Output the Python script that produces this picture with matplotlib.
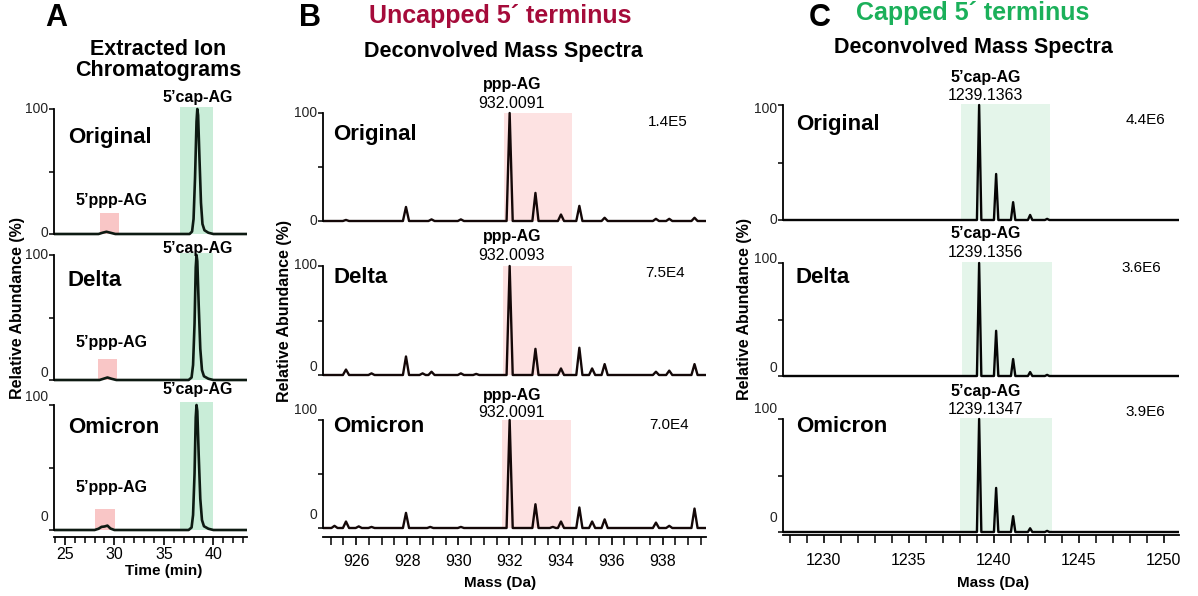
import matplotlib
matplotlib.use("Agg")
import matplotlib.pyplot as plt
from matplotlib.ticker import MultipleLocator

plt.rcParams["font.family"] = ["Liberation Sans", "DejaVu Sans"]

W, H = 1198, 596

variants = ["Original", "Delta", "Omicron"]

# --- panel A: extracted ion chromatograms (min, % abundance)
eic_original_t = [23.9, 28.4, 28.8, 29.2, 29.6, 30.1, 37.6, 37.85, 38.0, 38.15,
                  38.3, 38.38, 38.46, 38.6, 38.75, 38.9, 39.1, 39.5, 40.0, 43.4]
eic_original_y = [0, 0, 1, 1.8, 1, 0, 0, 2, 12, 45, 90, 100, 95, 60, 25, 8, 3, 1, 0, 0]
eic_delta_t = [23.9, 28.5, 28.9, 29.3, 29.7, 30.2, 37.5, 37.8, 37.95, 38.1,
               38.22, 38.3, 38.38, 38.52, 38.68, 38.85, 39.05, 39.5, 40.0, 43.4]
eic_delta_y = [0, 0, 1, 2, 1, 0, 0, 2, 12, 45, 90, 100, 95, 60, 25, 8, 3, 1, 0, 0]
eic_omicron_t = [23.9, 28.0, 28.4, 28.7, 29.0, 29.3, 29.6, 30.0, 37.5, 37.8, 37.95, 38.1,
                 38.22, 38.3, 38.38, 38.52, 38.68, 38.85, 39.05, 39.5, 40.0, 43.4]
eic_omicron_y = [0, 0, 1, 2.5, 2.8, 3.5, 1.2, 0, 0, 2, 12, 45, 90, 100, 95, 60, 25, 8, 3, 1, 0, 0]

# --- panel B: uncapped ppp-AG deconvolved spectra (Da, % abundance)
b_original_mass = [925.6, 927.95, 928.95, 930.1, 932.01, 933.02, 934.02, 934.74,
                   935.73, 937.74, 938.26, 939.25]
b_original_int = [1, 13, 1.5, 1.5, 100, 26, 6, 14, 3, 2, 2, 3]
b_delta_mass = [925.6, 926.6, 927.95, 928.6, 928.95, 930.1, 930.7, 932.01, 933.02,
                934.02, 934.74, 935.24, 935.73, 937.74, 938.26, 939.25]
b_delta_int = [5, 1.5, 17, 1.5, 3, 1.5, 1, 100, 24, 6, 25, 6, 10, 3, 4, 10]
b_omicron_mass = [925.15, 925.6, 926.1, 926.6, 927.95, 928.9, 930.1, 932.01, 933.02,
                  933.7, 934.02, 934.74, 935.24, 935.73, 937.74, 938.26, 939.25]
b_omicron_int = [2, 6, 1.5, 1, 14, 1, 1, 100, 22, 1, 6, 19, 6, 8, 5, 2, 18]
b_mono = ["932.0091", "932.0093", "932.0091"]
b_total = ["1.4E5", "7.5E4", "7.0E4"]

# --- panel C: capped 5'cap-AG deconvolved spectra
c_mass = [1239.14, 1240.14, 1241.14, 1242.14, 1243.14]
c_original_int = [100, 40, 15.5, 4.4, 1]
c_delta_int = [100, 40, 15, 3.5, 1]
c_omicron_int = [100, 39, 14, 3.3, 1]
c_mono = ["1239.1363", "1239.1356", "1239.1347"]
c_total = ["4.4E6", "3.6E6", "3.9E6"]

fig = plt.figure(figsize=(W / 100, H / 100), dpi=100)


def px_axes(x0, x1, y100, y0, ylo, yhi):
    s = (y0 - y100) / 100.0
    top = y100 - (yhi - 100) * s
    bot = y0 - ylo * s
    ax = fig.add_axes([x0 / W, 1 - bot / H, (x1 - x0) / W, (bot - top) / H])
    ax.set_ylim(ylo, yhi)
    ax.patch.set_alpha(0)
    return ax


def style(ax, bottom, offsets, pad=3):
    for s in ("top", "right"):
        ax.spines[s].set_visible(False)
    ax.spines["left"].set_bounds(0, 100)
    ax.spines["left"].set_linewidth(1.3)
    ax.spines["bottom"].set_linewidth(1.3)
    ax.set_yticks([0, 50, 100])
    ax.set_yticklabels([])
    ax.tick_params(axis="y", length=3.5, width=1.1)
    for val, dy in zip((100, 0), offsets):
        ax.annotate(str(val), xy=(0, val), xycoords=("axes fraction", "data"),
                    xytext=(-4, dy * 0.72), textcoords="offset points",
                    ha="right", va="center", fontsize=10, color="#222222")
    if bottom:
        ax.tick_params(axis="x", which="major", length=6, width=1.2,
                       labelsize=11.5, pad=pad)
        ax.tick_params(axis="x", which="minor", length=4.5, width=1.1)
    else:
        ax.spines["bottom"].set_visible(False)
        ax.tick_params(axis="x", which="both", bottom=False, labelbottom=False)


def stick_trace(masses, heights, lo, hi, hw):
    xs, ys = [lo], [0]
    for m, h in zip(masses, heights):
        xs += [m - hw, m, m + hw]
        ys += [0, h, 0]
    xs.append(hi)
    ys.append(0)
    return xs, ys


def ftext(x, y, s, **kw):
    fig.text(x / W, 1 - y / H, s, ha="center", va="center", **kw)


# ---------------- Panel A
a_rows = [(109, 234), (255, 380), (405, 530)]
a_off = [(0, 1), (0, 7), (8, 13)]
a_t = [eic_original_t, eic_delta_t, eic_omicron_t]
a_y = [eic_original_y, eic_delta_y, eic_omicron_y]
a_pink = [(28.5, 30.5), (28.3, 30.3), (28.0, 30.1)]
a_cap_y = [109, 105.6, 112]
a_ppp_y = [27, 30, 34]
a_name_y = [77.6, 80, 82]
for i, (y100, y0) in enumerate(a_rows):
    last = i == 2
    ax = px_axes(54, 247, y100, y0, -5.6 if last else -4, 104)
    ax.set_xlim(23.9, 43.4)
    ax.fill_between([36.6, 39.95], 0, 102, color="#c9edd8", lw=0)
    ax.fill_between(a_pink[i], 0, 17, color="#f9c6c6", lw=0)
    ax.plot(a_t[i], a_y[i], color="#0d1a12", lw=1.9)
    style(ax, last, a_off[i], pad=1)
    if last:
        ax.xaxis.set_major_locator(MultipleLocator(5))
        ax.xaxis.set_minor_locator(MultipleLocator(1))
    ax.text(38.4, a_cap_y[i], "5’cap-AG", ha="center", va="center",
            fontsize=11.5, fontweight="bold")
    ax.text(29.7, a_ppp_y[i], "5’ppp-AG", ha="center", va="center",
            fontsize=11.5, fontweight="bold")
    ax.text(25.3, a_name_y[i], variants[i], ha="left", va="center",
            fontsize=16, fontweight="bold")

ftext(56, 18, "A", fontsize=22, fontweight="bold")
ftext(158, 60, "Extracted Ion\nChromatograms", fontsize=15.5,
      fontweight="bold", linespacing=1.05)
ftext(18, 308, "Relative Abundance (%)", rotation=90, fontsize=11.5,
      fontweight="bold")
ftext(164, 571, "Time (min)", fontsize=11, fontweight="bold")

# ---------------- Panel B
b_rows = [(113, 221), (266, 375), (420, 528)]
b_off = [(0, 0), (1, 8), (10, 13)]
b_masses = [b_original_mass, b_delta_mass, b_omicron_mass]
b_ints = [b_original_int, b_delta_int, b_omicron_int]
b_pink = [(931.8, 934.47), (931.75, 934.46), (931.71, 934.43)]
b_head_y = [126, 127, 123]
b_mono_y = [109, 110, 107]
b_tot_xy = [(938.2, 92), (938.1, 94), (938.25, 95)]
b_name_y = [80, 89, 94]
for i, (y100, y0) in enumerate(b_rows):
    last = i == 2
    ax = px_axes(323, 706, y100, y0, -8.3 if last else -4, 104)
    lo, hi = 924.7, 939.7
    ax.set_xlim(lo, hi)
    ax.fill_between(b_pink[i], 0, 100, color="#fde2e2", lw=0)
    xs, ys = stick_trace(b_masses[i], b_ints[i], lo, hi, 0.12)
    ax.plot(xs, ys, color="#140808", lw=1.7)
    style(ax, last, b_off[i], pad=6)
    if last:
        ax.xaxis.set_major_locator(MultipleLocator(2))
        ax.xaxis.set_minor_locator(MultipleLocator(0.5))
        ax.tick_params(axis="x", which="minor", length=6)
    ax.text(932.1, b_head_y[i], "ppp-AG", ha="center", va="center",
            fontsize=11.5, fontweight="bold")
    ax.text(932.1, b_mono_y[i], b_mono[i], ha="center", va="center", fontsize=11.5)
    ax.text(*b_tot_xy[i], b_total[i], ha="center", va="center", fontsize=11)
    ax.text(925.1, b_name_y[i], variants[i], ha="left", va="center",
            fontsize=16, fontweight="bold")

ftext(310, 18, "B", fontsize=22, fontweight="bold")
ftext(500, 16, "Uncapped 5´ terminus", fontsize=18, fontweight="bold",
      color="#a50b3a")
ftext(503, 52, "Deconvolved Mass Spectra", fontsize=15.5, fontweight="bold")
ftext(285, 311, "Relative Abundance (%)", rotation=90, fontsize=11.5,
      fontweight="bold")
ftext(500, 583, "Mass (Da)", fontsize=11, fontweight="bold")

# ---------------- Panel C
c_rows = [(105, 220), (263, 376), (419, 532)]
c_off = [(-4, 0), (4, 8), (10, 14)]
c_ints = [c_original_int, c_delta_int, c_omicron_int]
c_green = [(1238.08, 1243.33), (1238.14, 1243.4), (1238.0, 1243.4)]
c_head_y = [124, 126, 124]
c_mono_y = [108, 109, 108]
c_tot_xy = [(1248.9, 87), (1248.7, 96), (1248.9, 106)]
c_name_y = [83, 87, 93]
for i, (y100, y0) in enumerate(c_rows):
    last = i == 2
    ax = px_axes(783, 1179, y100, y0, -2.5 if last else -4, 104)
    lo, hi = 1227.6, 1250.9
    ax.set_xlim(lo, hi)
    ax.fill_between(c_green[i], 0, 101, color="#e4f5ea", lw=0)
    xs, ys = stick_trace(c_mass, c_ints[i], lo, hi, 0.13)
    ax.plot(xs, ys, color="#050505", lw=1.7)
    style(ax, last, c_off[i], pad=7)
    if last:
        ax.xaxis.set_major_locator(MultipleLocator(5))
        ax.xaxis.set_minor_locator(MultipleLocator(1))
        ax.tick_params(axis="x", which="minor", length=6)
    ax.text(1239.5, c_head_y[i], "5’cap-AG", ha="center", va="center",
            fontsize=11.5, fontweight="bold")
    ax.text(1239.5, c_mono_y[i], c_mono[i], ha="center", va="center", fontsize=11.5)
    ax.text(*c_tot_xy[i], c_total[i], ha="center", va="center", fontsize=11)
    ax.text(1228.35, c_name_y[i], variants[i], ha="left", va="center",
            fontsize=16, fontweight="bold")

ftext(820, 18, "C", fontsize=22, fontweight="bold")
ftext(973, 13, "Capped 5´ terminus", fontsize=18, fontweight="bold",
      color="#1bb05a")
ftext(973, 48, "Deconvolved Mass Spectra", fontsize=15.5, fontweight="bold")
ftext(744, 309, "Relative Abundance (%)", rotation=90, fontsize=11.5,
      fontweight="bold")
ftext(993, 583, "Mass (Da)", fontsize=11, fontweight="bold")

fig.savefig("out.png", dpi=100)
